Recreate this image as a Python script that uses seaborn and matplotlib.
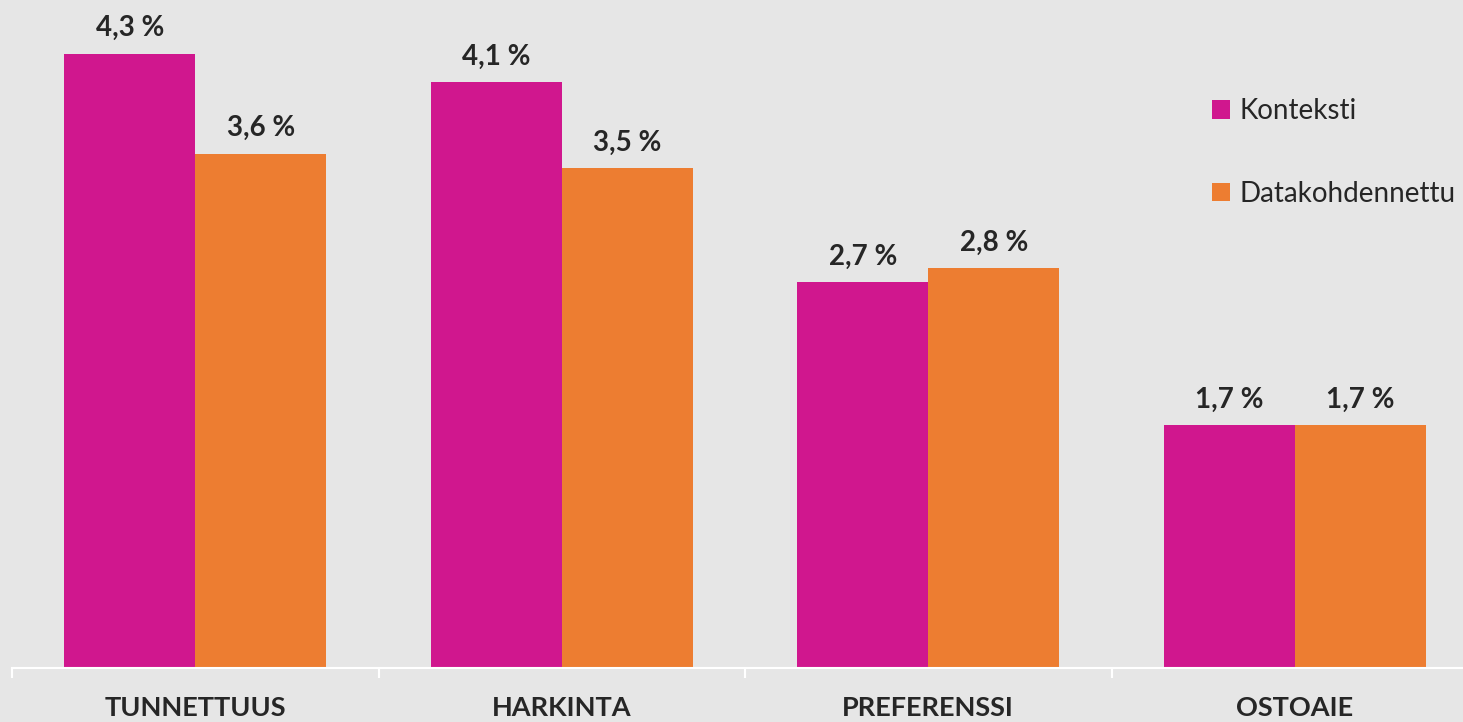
import pandas as pd
import numpy as np
import matplotlib
matplotlib.use("Agg")
import matplotlib.pyplot as plt
import seaborn as sns

# Data
categories = ["TUNNETTUUS", "HARKINTA", "PREFERENSSI", "OSTOAIE"]
konteksti = [4.3, 4.1, 2.7, 1.7]
datakohdennettu = [3.6, 3.5, 2.8, 1.7]
series_names = ["Konteksti", "Datakohdennettu"]

df = pd.DataFrame({
    "kategoria": categories * 2,
    "arvo": konteksti + datakohdennettu,
    "sarja": [series_names[0]] * 4 + [series_names[1]] * 4,
})

sns.set_style("white")
plt.rcParams["font.family"] = ["Lato", "DejaVu Sans"]

bg = "#E6E6E6"
colors = ["#D0178E", "#ED7D31"]

fig = plt.figure(figsize=(14.63, 7.22), dpi=100, facecolor=bg)
# axes spans a little past the right edge, like the cropped original
ax = fig.add_axes([12 / 1463, 54 / 722, 1466 / 1463, 657 / 722])
ax.set_facecolor(bg)

sns.barplot(data=df, x="kategoria", y="arvo", hue="sarja", palette=colors,
            width=0.715, saturation=1, linewidth=0, ax=ax, legend=True)

ax.set_xlim(-0.5, 3.5)
ax.set_ylim(0, 4.6)

# value labels
for cont in ax.containers:
    labs = [f"{v:.1f} %".replace(".", ",") for v in cont.datavalues]
    ax.bar_label(cont, labels=labs, padding=9, fontsize=20, fontweight="bold")

# axes styling
for s in ["top", "left", "right"]:
    ax.spines[s].set_visible(False)
ax.spines["bottom"].set_color("white")
ax.spines["bottom"].set_linewidth(1.5)
ax.set_yticks([])
ax.set_xlabel("")
ax.set_ylabel("")
ax.set_xticks(np.arange(-0.5, 4, 1), minor=True)
ax.tick_params(axis="x", which="minor", bottom=True, length=7, color="white",
               width=1.5, direction="out")
ax.tick_params(axis="x", which="major", length=0, pad=20)
for t in ax.get_xticklabels():
    t.set_fontsize(19.5)
    t.set_fontweight("bold")

# legend (cut at the right edge as in the original)
handles, labels = ax.get_legend_handles_labels()
ax.legend(handles, labels, loc="upper left", bbox_to_anchor=(1187 / 1463, 1 - 73 / 722),
          bbox_transform=fig.transFigure, frameon=False, fontsize=20,
          handlelength=0.65, handleheight=0.65, handletextpad=0.35, labelspacing=2.05)

fig.savefig("out.png", dpi=100, facecolor=bg)
